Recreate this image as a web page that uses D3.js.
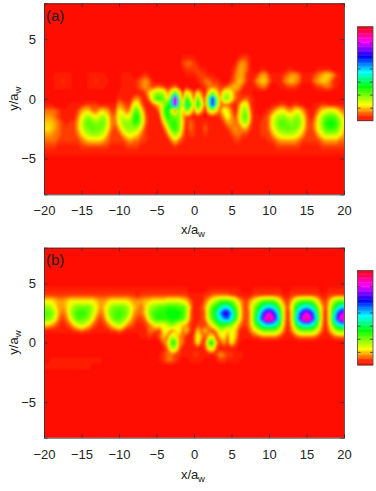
<!DOCTYPE html>
<html lang="en">
<head>
	<meta charset="UTF-8">
	<title>field maps</title>
	<style>
		* {
			margin: 0;
			padding: 0;
		}
		body {
			background: #fff;
		}
		svg {
			display: block;
		}
		text {
			font-family: "Liberation Sans", Arial, sans-serif;
			fill: #222;
		}
	</style>
</head>
<body>
	<script src="https://cdn.jsdelivr.net/npm/d3@7"></script>
	<script>
		var xTicks = [-20, -15, -10, -5, 0, 5, 10, 15, 20];
		var yTicks = [-5, 0, 5];
		var barTicks = [5, 10, 15, 20, 25, 30];

		// grid step is 0.5 on both axes, x runs -20..20 in each row
		// a level is the colour on the bar, 0 at the bottom and 36 at the top
		var firstRowA = 3.5;
		var levelsA = [
			[0,0,0,0,0,0,0,0,0,0, 0,0,0,0,0,0,0,0,0,0, 0,0,0,0,0,0,0,0,0,0, 0,0,0,0,0,0,0,1,1,1, 1,0,0,0,0,0,0,0,0,0, 0,0,1,2,2,1,0,0,0,0, 0,0,0,0,0,0,0,0,0,0, 0,0,0,0,0,0,0,0,0,0, 0],
			[0,0,0,0,0,0,0,0,0,0, 0,0,0,0,0,0,0,0,0,0, 0,0,0,0,0,0,0,0,0,0, 0,0,0,0,0,0,0,2,3,3, 2,1,0,0,0,0,0,0,0,0, 0,1,3,4,3,1,0,0,0,0, 0,0,0,0,0,0,0,0,0,0, 0,0,0,0,0,0,0,0,0,0, 0],
			[0,0,0,0,0,0,0,0,0,0, 0,0,0,0,0,0,0,0,0,0, 0,0,0,0,0,0,0,0,0,0, 0,0,0,0,0,0,0,1,2,2, 2,2,1,1,0,0,0,0,0,0, 1,2,4,4,3,1,0,0,1,1, 0,0,0,0,0,1,1,0,0,0, 0,0,0,1,1,1,1,0,0,0, 0],
			[0,0,0,1,1,1,1,1,0,0, 0,0,1,1,1,1,1,0,0,0, 0,1,1,1,0,0,1,2,1,0, 0,0,0,0,0,0,0,0,1,1, 1,2,2,2,1,1,0,0,0,0, 1,3,4,4,2,1,1,2,4,4, 2,1,1,1,2,3,4,4,3,1, 1,1,2,3,4,5,5,4,2,1, 0],
			[0,0,0,1,1,2,1,1,0,0, 0,0,1,1,2,1,1,1,0,0, 0,1,1,1,1,2,3,4,3,1, 0,0,0,0,0,0,0,0,0,0, 0,1,2,3,3,2,2,1,0,0, 2,3,5,4,2,1,2,4,5,5, 3,1,1,1,3,4,5,4,3,1, 1,1,3,4,5,5,4,2,1,1, 0],
			[0,0,0,1,1,1,1,1,0,0, 0,0,1,1,1,1,1,0,0,0, 0,1,1,1,1,2,3,4,3,2, 3,3,2,1,2,3,1,0,1,0, 0,0,1,2,3,3,3,2,2,3, 4,5,4,2,1,1,1,2,3,3, 1,0,0,1,1,2,2,2,1,0, 0,0,1,2,2,3,3,2,1,0, 0],
			[0,0,0,0,0,0,0,0,0,0, 0,0,0,0,0,0,0,0,0,0, 1,1,1,1,1,1,1,2,5,7, 9,9,8,4,7,12,7,2,7,5, 2,6,3,1,6,10,6,3,7,8, 6,3,2,1,1,1,0,0,0,0, 0,0,0,0,0,0,0,0,0,0, 0,0,0,0,0,0,0,0,0,0, 0],
			[0,0,0,0,0,0,0,0,0,0, 0,0,0,0,0,0,0,0,0,0, 2,1,1,1,3,4,2,1,3,8, 12,12,10,5,16,33,12,3,12,8, 3,11,5,2,14,27,11,4,9,10, 6,3,2,2,3,2,1,0,0,0, 0,0,0,0,0,0,0,0,0,0, 0,0,0,0,0,0,0,0,0,0, 0],
			[1,1,1,0,0,0,0,1,1,1, 1,2,2,2,2,1,1,1,1,1, 4,3,2,2,7,7,3,1,1,2, 4,5,9,13,16,31,12,6,17,12, 5,15,8,2,13,27,11,3,3,3, 2,1,3,7,7,2,1,0,0,0, 0,1,1,2,2,1,1,2,1,1, 0,0,1,1,2,2,1,1,1,1, 1],
			[3,3,3,3,2,1,1,1,1,2, 4,5,5,3,3,5,5,4,2,2, 6,5,3,4,10,11,6,2,1,1, 1,4,11,15,6,1,9,5,10,7, 3,8,4,1,6,8,5,3,7,6, 3,1,4,9,9,3,1,0,0,1, 2,3,5,6,6,4,4,6,6,4, 2,1,1,3,5,6,7,7,6,4, 3],
			[4,4,4,3,2,1,1,1,1,3, 6,8,9,7,6,8,9,6,3,3, 7,8,6,7,12,13,8,3,1,1, 1,2,9,13,11,10,10,4,2,2, 1,1,1,0,1,1,1,2,4,7, 4,2,5,10,11,4,1,1,1,2, 3,6,8,9,9,8,7,9,9,6, 3,1,2,5,8,10,11,11,10,7, 5],
			[5,5,5,4,3,2,1,2,2,4, 7,10,11,10,9,10,10,7,3,3, 6,9,9,9,12,12,8,3,1,1, 1,1,5,10,12,12,10,5,1,3, 2,1,1,2,1,1,1,1,2,4, 4,3,4,8,9,3,1,1,2,2, 3,7,9,11,11,10,9,10,10,7, 3,2,3,6,9,12,13,13,12,9, 6],
			[5,6,5,4,3,2,2,2,2,4, 7,9,10,11,10,10,9,6,3,2, 4,7,9,9,9,8,5,2,1,1, 1,1,2,6,11,12,10,4,1,3, 2,1,1,3,1,1,1,1,1,2, 3,4,3,4,4,2,1,1,2,2, 3,6,8,10,10,11,10,10,8,6, 3,2,3,6,8,11,12,12,11,8, 5],
			[4,4,4,3,3,2,2,2,2,3, 5,7,8,9,9,8,7,4,2,2, 2,4,6,7,6,5,3,2,1,1, 1,1,1,3,7,9,7,3,1,2, 2,1,1,2,1,1,1,1,1,1, 2,3,3,2,2,1,1,1,2,2, 2,4,6,7,8,8,8,7,6,4, 2,2,2,4,6,8,8,8,8,6, 4],
			[3,3,3,3,2,2,2,2,2,2, 3,4,5,5,5,5,4,3,2,2, 2,2,3,4,3,3,2,2,1,1, 1,1,1,1,3,5,3,2,1,1, 1,1,1,1,1,1,1,1,1,1, 1,2,2,1,1,1,1,1,1,1, 2,2,3,4,4,4,4,4,3,2, 2,2,2,2,3,4,4,4,4,3, 3],
			[2,2,2,2,1,1,1,1,1,1, 2,2,2,2,2,2,2,2,1,1, 1,1,2,2,2,2,1,1,1,1, 1,1,1,1,1,2,1,1,1,1, 1,1,1,1,1,1,1,1,1,1, 1,1,1,1,1,1,1,1,1,1, 1,1,2,2,2,2,2,2,2,1, 1,1,1,1,2,2,2,2,2,2, 2],
			[1,1,1,1,1,1,1,1,1,1, 1,1,1,1,1,1,1,1,1,1, 1,1,1,1,1,1,1,1,1,1, 1,1,1,1,1,1,1,1,1,1, 1,1,1,1,1,1,1,1,1,1, 1,1,1,1,1,1,1,1,1,1, 1,1,1,1,1,1,1,1,1,1, 1,1,1,1,1,1,1,1,1,1, 1]
		];

		var firstRowB = 4.5;
		var levelsB = [
			[1,1,1,1,1,1,1,1,1,1, 1,1,1,1,1,1,1,1,1,1, 1,1,1,1,1,1,1,1,1,1, 1,1,1,1,1,1,1,1,1,0, 0,0,0,0,1,1,1,1,1,1, 1,1,1,0,0,0,1,1,1,1, 1,1,1,1,0,0,1,1,1,1, 1,1,1,1,0,0,1,1,1,1, 1],
			[2,2,2,2,2,2,2,2,2,2, 2,2,2,2,2,2,2,2,2,2, 2,2,2,2,2,1,2,2,2,2, 2,2,2,2,2,2,2,2,2,1, 1,1,1,2,2,3,3,3,3,3, 2,2,1,1,1,1,2,2,2,2, 2,2,2,2,1,1,2,2,2,2, 2,2,2,2,1,1,2,2,2,2, 2],
			[6,6,6,5,4,4,5,6,6,6, 6,6,6,6,5,4,4,5,6,6, 6,6,6,5,4,4,4,5,5,6, 6,6,6,7,7,7,7,6,5,3, 1,1,1,3,5,7,9,11,11,11, 10,8,5,3,2,4,6,8,10,11, 11,11,9,6,3,2,4,8,10,11, 11,11,9,6,3,2,4,8,10,11, 11],
			[9,9,8,6,4,4,5,7,9,10, 10,10,10,8,6,4,5,7,9,10, 10,10,9,7,5,4,3,5,8,9, 10,11,11,12,12,12,11,11,9,4, 1,1,2,4,8,11,13,16,18,18, 15,11,7,3,2,5,9,12,15,18, 19,18,15,10,5,2,6,12,16,18, 19,18,15,10,5,2,5,11,15,18, 19],
			[11,11,10,8,4,3,4,8,10,12, 12,12,10,8,5,3,4,8,10,11, 12,11,10,7,4,3,3,5,9,11, 12,12,12,13,13,13,13,12,9,3, 1,1,2,3,9,12,16,21,26,27, 20,14,8,3,2,4,10,15,21,27, 30,27,21,13,5,1,5,13,21,27, 30,27,21,13,5,1,5,13,21,27, 30],
			[10,10,9,6,3,2,3,6,9,11, 11,10,9,6,3,2,3,6,9,11, 11,10,8,5,3,2,2,3,7,10, 12,12,12,12,13,13,12,11,8,3, 1,1,2,3,8,11,15,18,21,22, 18,13,7,3,2,4,11,17,23,31, 35,31,23,15,5,1,5,15,23,31, 35,31,23,15,5,1,5,15,23,31, 32],
			[5,5,4,3,2,1,2,3,5,7, 8,7,5,3,2,1,2,3,5,7, 8,7,4,3,2,1,1,2,3,5, 7,6,6,8,10,8,6,5,4,2, 1,2,2,2,4,7,10,12,12,11, 9,7,4,2,2,4,9,13,16,18, 19,18,16,11,4,1,4,11,16,18, 19,18,16,11,4,1,4,11,16,18, 19],
			[1,1,1,1,1,1,1,1,2,2, 3,2,2,1,1,1,1,1,2,2, 3,2,1,1,1,1,1,1,3,3, 2,2,6,6,3,5,7,3,5,2, 1,5,3,5,3,2,4,8,7,5, 7,5,2,1,1,3,5,7,9,10, 10,10,9,6,3,1,3,6,9,10, 10,10,9,6,3,1,3,6,9,10, 10],
			[0,0,0,0,0,0,0,0,0,0, 0,0,0,0,0,0,0,0,0,0, 0,0,0,0,0,0,1,1,2,1, 1,3,5,3,8,7,4,3,1,1, 2,7,4,2,5,6,2,5,6,3, 7,5,1,1,1,1,2,2,3,3, 3,3,3,2,1,1,1,2,3,3, 3,3,3,2,1,1,1,2,3,3, 3],
			[0,0,0,0,0,0,0,0,0,0, 0,0,0,0,0,0,0,0,0,0, 0,0,0,0,0,0,0,0,0,0, 0,1,3,5,12,12,4,3,1,1, 2,6,2,2,12,13,4,2,4,2, 6,3,1,0,0,0,0,0,0,0, 0,0,0,0,0,0,0,0,0,0, 0,0,0,0,0,0,0,0,0,0, 0],
			[0,0,0,0,0,0,0,0,0,0, 0,0,0,0,0,0,0,0,0,0, 0,0,0,0,0,0,0,0,0,0, 0,0,1,3,8,8,3,1,1,1, 1,1,1,2,6,7,2,1,1,1, 1,1,0,0,0,0,0,0,0,0, 0,0,0,0,0,0,0,0,0,0, 0,0,0,0,0,0,0,0,0,0, 0],
			[0,0,0,0,0,0,0,0,0,0, 0,0,0,0,0,0,0,0,0,0, 0,0,0,0,0,0,0,0,0,0, 0,1,2,3,3,2,2,1,1,1, 2,2,1,1,1,1,2,4,3,2, 2,1,1,1,0,0,0,0,0,0, 0,0,0,0,0,0,0,0,0,0, 0,0,0,0,0,0,0,0,0,0, 0],
			[0,0,1,1,1,1,1,1,1,1, 1,1,1,1,1,1,0,0,0,0, 0,0,0,0,0,0,0,0,0,0, 0,1,2,3,3,2,1,0,0,1, 1,1,1,0,0,0,1,2,2,1, 1,1,1,0,0,0,0,0,0,0, 0,0,0,0,0,0,0,0,0,0, 0,0,0,0,0,0,0,0,0,0, 0],
			[1,1,1,1,1,1,1,1,1,1, 1,1,1,0,0,0,0,0,0,0, 0,0,0,0,0,0,0,0,0,0, 0,0,0,0,0,0,0,0,0,0, 0,0,0,0,0,0,0,0,0,0, 0,0,0,0,0,0,0,0,0,0, 0,0,0,0,0,0,0,0,0,0, 0,0,0,0,0,0,0,0,0,0, 0]
		];

		var panels = [
			{ name: "a", rows: levelsA, firstRow: firstRowA, top: 3.3, bottom: 194.4, barTop: 26.7, barBottom: 120.7, labelY: 20.5, xLabelY: 234, tickPad: 11 },
			{ name: "b", rows: levelsB, firstRow: firstRowB, top: 247.7, bottom: 437.7, barTop: 270.5, barBottom: 365, labelY: 264.5, xLabelY: 479, tickPad: 12.5 }
		];

		var plotLeft = 44, plotRight = 344, barLeft = 357.5, barRight = 373;
		var cols = 81, rowCount = 33;

		// the low end of the bar changes slowly, red stays red for a while
		var hue = d3.scaleLinear()
			.domain([0, 1, 2, 3, 6, 12, 36])
			.range([3, 7, 14, 27, 60, 112, 360]);
		var color = function (v) {
			return d3.hsl(hue(v), 1, 0.5).formatRgb();
		};

		var svg = d3.select("body").append("svg").attr("width", 376).attr("height", 491);

		var defs = svg.append("defs");
		defs.append("filter").attr("id", "soft")
			.attr("x", "-5%").attr("y", "-5%").attr("width", "110%").attr("height", "110%")
			.append("feGaussianBlur").attr("stdDeviation", 1.2);

		var xScale = d3.scaleLinear().domain([-20, 20]).range([plotLeft, plotRight]);

		panels.forEach(function (p) {
			var yScale = d3.scaleLinear().domain([-8, 8]).range([p.bottom, p.top]);

			// rows outside the listed band stay at the background level
			var grid = [];
			d3.range(rowCount).forEach(function (r) {
				var y = 8 - r * 0.5;
				var row = p.rows[(p.firstRow - y) / 0.5];
				d3.range(cols).forEach(function (c) {
					grid.push(row ? row[c] : 0);
				});
			});

			var contours = d3.contours().size([cols, rowCount]).thresholds(d3.range(0.25, 36, 0.25))(grid);
			var path = d3.geoPath(d3.geoTransform({
				point: function (cx, cy) {
					this.stream.point(xScale(-20 + (cx - 0.5) * 0.5), yScale(8 - (cy - 0.5) * 0.5));
				}
			}));

			defs.append("clipPath").attr("id", "clip-" + p.name)
				.append("rect")
				.attr("x", plotLeft).attr("y", p.top)
				.attr("width", plotRight - plotLeft).attr("height", p.bottom - p.top);

			var box = svg.append("g");
			var map = box.append("g").attr("clip-path", "url(#clip-" + p.name + ")")
				.append("g").attr("filter", "url(#soft)");

			map.append("rect")
				.attr("x", plotLeft - 10).attr("y", p.top - 10)
				.attr("width", plotRight - plotLeft + 20).attr("height", p.bottom - p.top + 20)
				.attr("fill", color(0));

			map.selectAll("path")
				.data(contours)
				.enter()
				.append("path")
				.attr("d", path)
				.attr("fill", function (d) { return color(d.value); });

			// x axis, bottom and top
			var bottomAxis = box.append("g")
				.attr("transform", "translate(0," + p.bottom + ")")
				.call(d3.axisBottom(xScale).tickValues(xTicks).tickSize(-3.5).tickPadding(p.tickPad).tickFormat(d3.format("d")));
			var topAxis = box.append("g")
				.attr("transform", "translate(0," + p.top + ")")
				.call(d3.axisTop(xScale).tickValues(xTicks).tickSize(-3.5).tickFormat(""));
			// y axis, left and right
			var leftAxis = box.append("g")
				.attr("transform", "translate(" + plotLeft + ",0)")
				.call(d3.axisLeft(yScale).tickValues(yTicks).tickSize(-3.5).tickPadding(8).tickFormat(d3.format("d")));
			var rightAxis = box.append("g")
				.attr("transform", "translate(" + plotRight + ",0)")
				.call(d3.axisRight(yScale).tickValues(yTicks).tickSize(-3.5).tickFormat(""));

			[bottomAxis, topAxis, leftAxis, rightAxis].forEach(function (a) {
				a.attr("font-family", null).attr("font-size", 13);
				a.selectAll("path, line").attr("stroke", "#333").attr("stroke-width", 0.8);
			});

			box.append("text").attr("x", 46).attr("y", p.labelY).attr("font-size", 15).text("(" + p.name + ")");

			box.append("text").attr("x", 181).attr("y", p.xLabelY).attr("font-size", 13).text("x/a");
			box.append("text").attr("x", 198).attr("y", p.xLabelY + 3).attr("font-size", 9.5).text("w");

			var yLabel = box.append("text")
				.attr("transform", "translate(18," + (yScale(0) + 12) + ") rotate(-90)")
				.attr("font-size", 13);
			yLabel.append("tspan").text("y/a");
			yLabel.append("tspan").attr("dy", 3).attr("font-size", 9.5).text("w");

			// colour bar
			var barScale = d3.scaleLinear().domain([0, 36]).range([p.barBottom, p.barTop]);
			var barLevels = d3.range(0, 36, 0.5);
			box.selectAll("rect.bar")
				.data(barLevels)
				.enter()
				.append("rect")
				.classed("bar", true)
				.attr("x", barLeft)
				.attr("y", function (d) { return barScale(d + 0.5); })
				.attr("width", barRight - barLeft)
				.attr("height", function (d) { return barScale(d) - barScale(d + 0.5) + 0.4; })
				.attr("fill", function (d) { return color(d); });

			var barAxisLeft = box.append("g")
				.attr("transform", "translate(" + barLeft + ",0)")
				.call(d3.axisLeft(barScale).tickValues(barTicks).tickSize(-3).tickFormat(""));
			var barAxisRight = box.append("g")
				.attr("transform", "translate(" + barRight + ",0)")
				.call(d3.axisRight(barScale).tickValues(barTicks).tickSize(-3).tickFormat(""));
			[barAxisLeft, barAxisRight].forEach(function (a) {
				a.selectAll("path").remove();
				a.selectAll("line").attr("stroke", "#333").attr("stroke-width", 0.8);
			});
			box.append("rect")
				.attr("x", barLeft).attr("y", p.barTop)
				.attr("width", barRight - barLeft).attr("height", p.barBottom - p.barTop)
				.attr("fill", "none").attr("stroke", "#444").attr("stroke-width", 0.8);
		});
	</script>
</body>
</html>
